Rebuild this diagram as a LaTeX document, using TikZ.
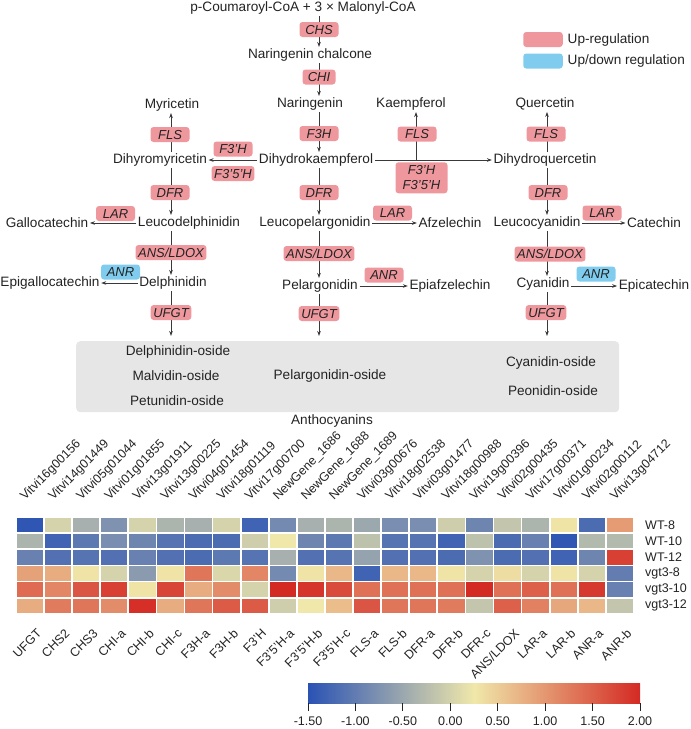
\documentclass[tikz,border=0pt]{standalone}
\usepackage{fontspec}
\setmainfont{Liberation Sans}
\usetikzlibrary{arrows.meta}
\definecolor{ink}{RGB}{35,35,35}
\definecolor{uppink}{RGB}{238,152,158}
\definecolor{udblue}{RGB}{128,204,238}
\definecolor{boxgrey}{RGB}{230,230,230}
\definecolor{hmblue}{RGB}{42,82,180}
\definecolor{hmyel}{RGB}{240,232,170}
\definecolor{hmred}{RGB}{212,42,36}

\begin{document}
\begin{tikzpicture}[x=1pt,y=-1pt,
    met/.style={inner sep=1.5pt,text=ink,font=\fontsize{13.6}{16}\selectfont},
    enzbox/.style={fill=uppink,rounded corners=3pt,inner xsep=2.6pt,inner ysep=0pt,minimum width=39pt,minimum height=15pt,text=ink,font=\fontsize{13}{15}\selectfont\itshape},
    enz/.style={enzbox,text height=9.6pt,text depth=0pt},
    enzb/.style={enz,fill=udblue},
    arr/.style={draw=ink!90,line width=0.8pt,-{Stealth[length=5pt,width=3.6pt]}},
    lab/.style={inner sep=0pt,text=ink,font=\fontsize{12.5}{14}\selectfont}]
\useasboundingbox (0,0) rectangle (691,729);
\coordinate (colL) at (171,0);
\coordinate (colM) at (319,0);
\coordinate (colR) at (547,0);
\node[met] (pcoum) at (303,8) {p-Coumaroyl-CoA + 3 × Malonyl-CoA};
\node[met] (chal) at (310,55) {Naringenin chalcone};
\node[met] (nar) at (310,104) {Naringenin};
\node[met] (dhk) at (316,160) {Dihydrokaempferol};
\node[met] (lpel) at (315,223) {Leucopelargonidin};
\node[met] (pel) at (320,286) {Pelargonidin};
\node[met] (myr) at (172,105) {Myricetin};
\node[met] (dhm) at (160,160) {Dihyromyricetin};
\node[met] (ldel) at (189,223) {Leucodelphinidin};
\node[met] (gal) at (47,223) {Gallocatechin};
\node[met] (del) at (173,283) {Delphinidin};
\node[met] (epigal) at (50,283) {Epigallocatechin};
\node[met] (kae) at (411,104) {Kaempferol};
\node[met] (afz) at (450,223) {Afzelechin};
\node[met] (epiafz) at (450,286) {Epiafzelechin};
\node[met] (que) at (545,104) {Quercetin};
\node[met] (dhq) at (545,160) {Dihydroquercetin};
\node[met] (lcya) at (537,223) {Leucocyanidin};
\node[met] (cat) at (654,223) {Catechin};
\node[met] (cya) at (543,284) {Cyanidin};
\node[met] (epicat) at (654,286) {Epicatechin};
\node[fill=boxgrey,rounded corners=4pt,minimum width=543pt,minimum height=71pt,anchor=north west] (anth) at (76,341) {};
\node[met] (delos) at (178,352) {Delphinidin-oside};
\node[met] (malos) at (176,376) {Malvidin-oside};
\node[met] (petos) at (177,401) {Petunidin-oside};
\node[met] (pelos) at (330,376) {Pelargonidin-oside};
\node[met] (cyaos) at (551,363) {Cyanidin-oside};
\node[met] (peoos) at (553,391) {Peonidin-oside};
\node[met] (anthlab) at (332,421) {Anthocyanins};
\coordinate (kbr) at (416,160);
\draw[arr] (pcoum.south -| colM) -- (chal.north -| colM);
\draw[arr] (chal.south -| colM) -- (nar.north -| colM);
\draw[arr] (nar.south -| colM) -- (dhk.north -| colM);
\draw[arr] (dhk.south -| colM) -- (lpel.north -| colM);
\draw[arr] (lpel.south -| colM) -- (pel.north -| colM);
\draw[arr,shorten >=5pt] (pel.south -| colM) -- (anth.north -| colM);
\draw[arr] (dhm.north -| colL) -- (myr.south -| colL);
\draw[arr] (dhm.south -| colL) -- (ldel.north -| colL);
\draw[arr] (ldel.south -| colL) -- (del.north -| colL);
\draw[arr,shorten >=5pt] (del.south -| colL) -- (anth.north -| colL);
\draw[arr] (dhq.north -| colR) -- (que.south -| colR);
\draw[arr] (dhq.south -| colR) -- (lcya.north -| colR);
\draw[arr] (lcya.south -| colR) -- (cya.north -| colR);
\draw[arr,shorten >=5pt] (cya.south -| colR) -- (anth.north -| colR);
\draw[arr] (dhk.west) -- (dhm.east);
\draw[arr] (dhk.east) -- (dhq.west);
\draw[arr] (kbr) -- (kae.south -| kbr);
\draw[arr] (ldel.west) -- (gal.east);
\draw[arr] (del.west) -- (epigal.east);
\draw[arr] (lpel.east) -- (afz.west);
\draw[arr] (pel.east) -- (epiafz.west);
\draw[arr] (lcya.east) -- (cat.west);
\draw[arr] (cya.east |- epicat) -- (epicat.west);
\node[enz] (chs) at (319,29.5) {CHS};
\node[enz,minimum width=33pt] (chi) at (319,77) {CHI};
\node[enz] (f3h) at (319,133.5) {F3H};
\node[enz] (dfrM) at (319,192.5) {DFR};
\node[enz] (ansM) at (319,253.5) {ANS/LDOX};
\node[enz] (ufgtM) at (319,313.5) {UFGT};
\node[enz] (larM) at (392.5,213) {LAR};
\node[enz] (anrM) at (384,275) {ANR};
\node[enz] (flsM) at (417,134) {FLS};
\node[enzbox,align=center,minimum width=52pt,minimum height=31pt] (f3hM) at (421.5,177.8) {F3'H\\F3'5'H};
\node[enz] (flsL) at (170,134.5) {FLS};
\node[enz] (f3hL) at (233,149) {F3'H};
\node[enz] (f35hL) at (233,173.5) {F3'5'H};
\node[enz] (dfrL) at (170,192.5) {DFR};
\node[enz] (larL) at (115.5,213.5) {LAR};
\node[enz] (ansL) at (171,252.5) {ANS/LDOX};
\node[enzb] (anrL) at (120.5,272) {ANR};
\node[enz] (ufgtL) at (171,312.5) {UFGT};
\node[enz] (flsR) at (546,134) {FLS};
\node[enz] (dfrR) at (548,192.5) {DFR};
\node[enz] (larR) at (602,213) {LAR};
\node[enz] (ansR) at (550,254) {ANS/LDOX};
\node[enzb] (anrR) at (596,274) {ANR};
\node[enz] (ufgtR) at (546,312.5) {UFGT};
\node[enz,minimum width=39.5pt] (legup) at (543,39.5) {};
\node[enzb,minimum width=39.5pt] (legud) at (543,61) {};
\node[met,anchor=west] (leguptxt) at (566,40) {Up-regulation};
\node[met,anchor=west] (legudtxt) at (566,61) {Up/down regulation};
\foreach \row [count=\r] in {
  {-1.45,0,-0.4,-0.75,0,-0.35,-0.4,0,-1.3,-0.85,-0.4,-0.35,-0.5,-0.8,-0.8,-0.05,-0.9,-0.15,-0.35,0.3,-1.2,0.95},
  {-0.35,-1.3,-1.05,-0.8,-0.9,-1.1,-1.2,-1.2,-0.05,0.25,-0.9,-1.05,-0.2,-1.1,-1.1,-1.3,-0.2,-1.2,-0.95,-1.45,-0.3,-0.3},
  {-0.95,-1.15,-1.1,-1.15,-0.95,-1.15,-1.2,-1.05,-1.1,-0.4,-1.15,-1.1,-0.55,-1.15,-1.15,-1.2,-0.75,-1.2,-1.15,-1.3,-0.9,1.8},
  {0.9,0.8,0.3,0,-0.65,0.3,1.3,0.05,1.15,-0.85,0.3,0.7,-1.3,0.7,0.7,0.3,0,0.35,0,0.3,0,-1.0},
  {1.4,1.15,1.6,1.8,0.3,1.75,0.8,1.1,0,2.0,1.9,1.7,1.35,1.35,1.35,1.35,2.0,1.35,1.5,1.35,1.85,-0.95},
  {0.8,1.25,1.3,1.1,1.95,0.8,1.3,1.55,1.55,-0.05,0.25,0.65,1.6,1.3,1.3,1.25,-0.15,1.5,1.2,0.85,0.7,-0.15}}
  \foreach \v [count=\c] in \row {
    \pgfmathtruncatemacro\lowv{\v<0.25 ? 1 : 0}
    \pgfmathsetmacro\pct{\v<0.25 ? (0.25-\v)/1.75*100 : (\v-0.25)/1.75*100}
    \ifnum\lowv=1 \colorlet{cellc}{hmblue!\pct!hmyel}\else\colorlet{cellc}{hmred!\pct!hmyel}\fi
    \fill[cellc] (16.8+28.09*\c-28.09,517.8+16.17*\r-16.17) rectangle ++(26.4,14.5);
  }
\foreach \s [count=\r] in {WT-8,WT-10,WT-12,vgt3-8,vgt3-10,vgt3-12}
  \node[lab,anchor=west] (row\r) at (645,508.9+16.17*\r) {\s};
\foreach \g [count=\c] in {Vitvi16g00156,Vitvi14g01449,Vitvi05g01044,Vitvi01g01855,Vitvi13g01911,Vitvi13g00225,Vitvi04g01454,Vitvi18g01119,Vitvi17g00700,NewGene\_1686,NewGene\_1688,NewGene\_1689,Vitvi03g00676,Vitvi18g02538,Vitvi03g01477,Vitvi18g00988,Vitvi19g00396,Vitvi02g00435,Vitvi17g00371,Vitvi01g00234,Vitvi02g00112,Vitvi13g04712}
  \node[lab,rotate=45,anchor=base west] (gene\c) at (-3+28.09*\c,501) {\g};
\foreach \s [count=\c] in {UFGT,CHS2,CHS3,CHI-a,CHI-b,CHI-c,F3H-a,F3H-b,F3'H,F3'5'H-a,F3'5'H-b,F3'5'H-c,FLS-a,FLS-b,DFR-a,DFR-b,DFR-c,ANS/LDOX,LAR-a,LAR-b,ANR-a,ANR-b}
  \node[lab,rotate=45,anchor=north east] (enzl\c) at (8+28.09*\c,628) {\s};
\shade[left color=hmblue,right color=hmyel] (308,683) rectangle (474.1,703);
\shade[left color=hmyel,right color=hmred] (474,683) rectangle (640,703);
\foreach \t [count=\i from 0] in {-1.50,-1.00,-0.50,0.00,0.50,1.00,1.50,2.00} {
  \draw[ink,line width=0.8pt] (308+47.43*\i,703) -- ++(0,8);
  \node[lab] (tick\i) at (308+47.43*\i,721) {\t};
}
\end{tikzpicture}
\end{document}
